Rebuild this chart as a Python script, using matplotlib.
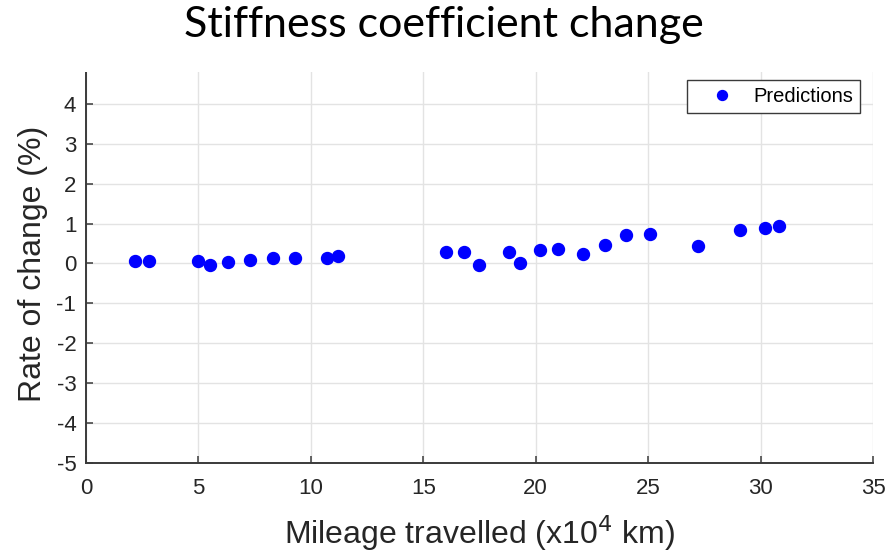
import numpy as np
import matplotlib
matplotlib.use('Agg')
import matplotlib.pyplot as plt
from matplotlib.patches import Rectangle

# mileage (x10^4 km) and rate of change (%)
mileage = [2.2, 2.8, 5.0, 5.5, 6.3, 7.3, 8.3, 9.3, 10.7, 11.2,
           16.0, 16.8, 17.5, 18.8, 19.3, 20.2, 21.0, 22.1, 23.1, 24.0,
           25.1, 27.2, 29.1, 30.2, 30.8]
rate = [0.05, 0.05, 0.05, -0.04, 0.04, 0.08, 0.15, 0.15, 0.15, 0.18,
        0.30, 0.29, -0.04, 0.29, 0.01, 0.34, 0.37, 0.23, 0.47, 0.71,
        0.73, 0.45, 0.84, 0.88, 0.95]

xticks = [0, 5, 10, 15, 20, 25, 30, 35]
yticks = [-5, -4, -3, -2, -1, 0, 1, 2, 3, 4, 5]

plt.rcParams['font.family'] = ['Liberation Sans', 'DejaVu Sans']
plt.rcParams['axes.unicode_minus'] = False
dark = '#262626'
spine = '#3a3a3a'

fig = plt.figure(figsize=(8.92, 5.55), dpi=100)
# axes runs up to y=5, the top strip is hidden under the title band
ax = fig.add_axes([0.0964, 0.1658, 0.8823, 0.7189])

ax.plot(mileage, rate, 'o', color='blue', markersize=8.6, label='Predictions')

ax.set_xlim(0, 35)
ax.set_ylim(-5, 5)
ax.set_xticks(xticks)
ax.set_yticks(yticks)
ax.grid(True, color='#e3e3e3', linewidth=1.0)
ax.set_axisbelow(True)

for side in ['top', 'right']:
    ax.spines[side].set_visible(False)
for side in ['left', 'bottom']:
    ax.spines[side].set_color(spine)
    ax.spines[side].set_linewidth(1.4)
ax.tick_params(direction='in', length=5, width=1.1, colors=spine,
               labelsize=16, labelcolor=dark)
ax.tick_params(axis='x', pad=10.5)
ax.tick_params(axis='y', pad=7)

ax.set_xlabel('Mileage travelled (x10$^4$ km)', fontsize=23, color=dark)
ax.xaxis.set_label_coords(0.5, -0.125)
ax.set_ylabel('Rate of change (%)', fontsize=23, color=dark)
ax.yaxis.set_label_coords(-0.048, 0.5)

leg = ax.legend(loc='upper right', fontsize=14.5, frameon=True, fancybox=False,
                markerscale=0.83, borderpad=0.35, handlelength=2.8,
                handletextpad=0.15, borderaxespad=0,
                bbox_to_anchor=(0.9835, 0.96))
leg.get_frame().set_edgecolor(spine)
leg.get_frame().set_linewidth(1.0)
leg.get_frame().set_alpha(1)

# white title band over the top of the axes
fig.patches.append(Rectangle((0, 0.8703), 1, 0.1297, transform=fig.transFigure,
                             facecolor='white', edgecolor='none', zorder=10))

fig.text(0.498, 0.933, 'Stiffness coefficient change', ha='center', va='baseline',
         fontsize=31, family=['Lato', 'DejaVu Sans'], color='black', zorder=11)

plt.savefig('out.png', dpi=100)
